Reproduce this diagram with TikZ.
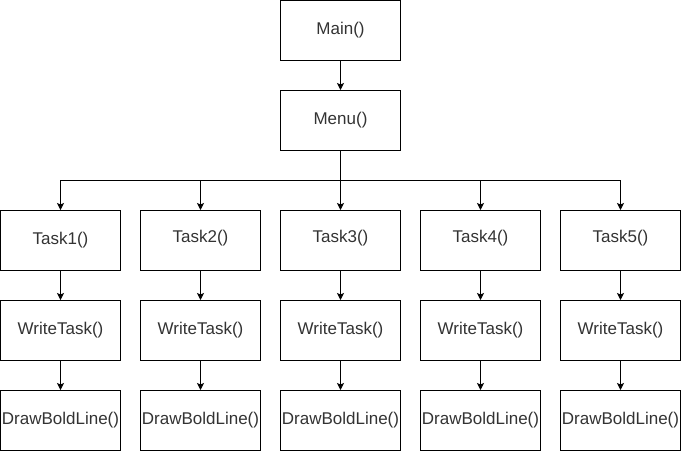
\documentclass[tikz,border=0pt]{standalone}
\usepackage{fontspec}
\setmainfont{Liberation Sans}
\usetikzlibrary{arrows.meta}
\definecolor{txt}{HTML}{333333}
\begin{document}
\begin{tikzpicture}[x=1pt,y=-1pt,
  box/.style={draw=black,line width=1pt,rectangle,minimum width=120pt,minimum height=60pt,
    inner sep=0pt,text=txt,font=\fontsize{17}{20}\selectfont},
  arr/.style={line width=1pt,-{Stealth[length=7pt,width=7pt,inset=1.5pt]}},
  ln/.style={line width=1pt}]
\useasboundingbox (0,0) rectangle (681,451);
\fill[white] (0,0) rectangle (681,451);
\node[box] (main) at (340.5,30.5) {\raisebox{-2pt}{Main()}};
\node[box] (menu) at (340.5,120.5) {\raisebox{-2pt}{Menu()}};
\node[box] (t1) at (60.5,240.5) {\raisebox{-2pt}{Task1()}};
\node[box] (t2) at (200.5,240.5) {\raisebox{9pt}{Task2()}};
\node[box] (t3) at (340.5,240.5) {\raisebox{9pt}{Task3()}};
\node[box] (t4) at (480.5,240.5) {\raisebox{9pt}{Task4()}};
\node[box] (t5) at (620.5,240.5) {\raisebox{9pt}{Task5()}};
\foreach \i/\x in {1/60.5,2/200.5,3/340.5,4/480.5,5/620.5}{
  \node[box] (w\i) at (\x,330.5) {\raisebox{-2pt}{WriteTask()}};
  \node[box] (d\i) at (\x,420.5) {\raisebox{-2pt}{DrawBoldLine()}};
}
\coordinate (bus) at (340.5,180.5);
\draw[arr] (main) -- (menu);
\draw[ln] (menu) -- (bus);
\foreach \i in {1,...,5}{
  \draw[arr] (bus) -| (t\i.north);
  \draw[arr] (t\i) -- (w\i);
  \draw[arr] (w\i) -- (d\i);
}
\end{tikzpicture}
\end{document}
